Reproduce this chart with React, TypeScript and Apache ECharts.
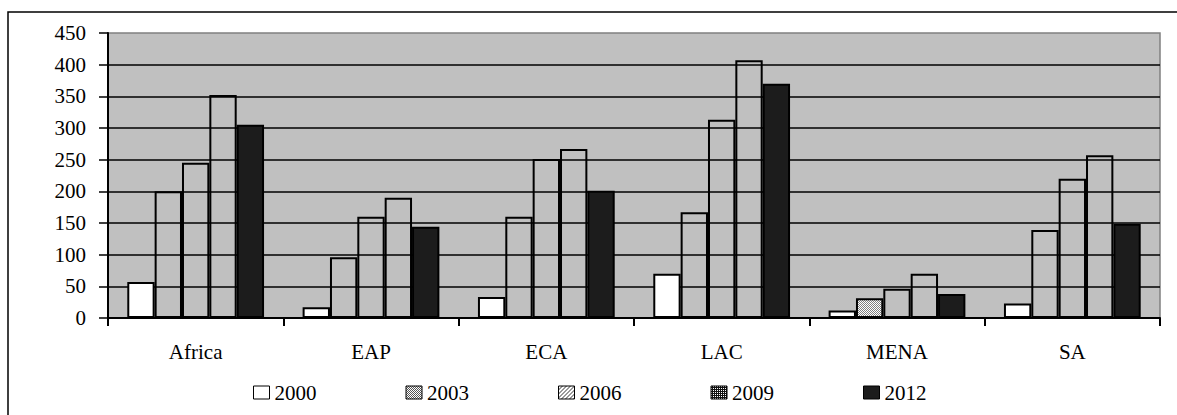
import React, { useEffect, useRef } from "react";
import * as echarts from "echarts";

const categories = ["Africa", "EAP", "ECA", "LAC", "MENA", "SA"];
const years = ["2000", "2003", "2006", "2009", "2012"];
const v2000 = [57, 17, 33, 70, 12, 23];
const v2003 = [200, 96, 160, 167, 31, 139];
const v2006 = [245, 160, 251, 313, 46, 220];
const v2009 = [352, 190, 267, 407, 70, 257];
const v2012 = [305, 144, 201, 370, 38, 149];
const yTicks = [0, 50, 100, 150, 200, 250, 300, 350, 400, 450];

const FONT = "'Liberation Serif', 'Times New Roman', serif";

function makePattern(kind: string) {
  const c = document.createElement("canvas");
  const size = 4;
  c.width = size;
  c.height = size;
  const ctx = c.getContext("2d")!;
  ctx.fillStyle = "#ffffff";
  ctx.fillRect(0, 0, size, size);
  if (kind === "dots") {
    ctx.fillStyle = "#808080";
    ctx.fillRect(0, 0, 1, 1);
    ctx.fillRect(2, 0, 1, 1);
    ctx.fillRect(1, 1, 1, 1);
    ctx.fillRect(3, 1, 1, 1);
    ctx.fillRect(0, 2, 1, 1);
    ctx.fillRect(2, 2, 1, 1);
    ctx.fillRect(1, 3, 1, 1);
    ctx.fillRect(3, 3, 1, 1);
  } else if (kind === "legdots") {
    ctx.fillStyle = "#555555";
    for (let i = 0; i < size; i++) {
      ctx.fillRect(i, i, 1, 1);
      ctx.fillRect((i + 2) % size, i, 1, 1);
    }
  } else if (kind === "hatch") {
    ctx.fillStyle = "#333333";
    for (let i = 0; i < size; i++) {
      ctx.fillRect(size - 1 - i, i, 1, 1);
    }
  } else {
    ctx.fillStyle = "#111111";
    ctx.fillRect(0, 0, size, size);
    ctx.fillStyle = "#ffffff";
    ctx.fillRect(0, 0, 1, 1);
    ctx.fillRect(2, 2, 1, 1);
    ctx.fillRect(2, 0, 1, 1);
    ctx.fillRect(0, 2, 1, 1);
  }
  return { image: c, repeat: "repeat", imageWidth: size, imageHeight: size } as any;
}

export default function App() {
  const ref = useRef<HTMLDivElement>(null);
  useEffect(() => {
    document.body.style.margin = "0";
    const chart = echarts.init(ref.current!, null, { renderer: "svg" });
    const dots = makePattern("dots");
    const legDots = makePattern("legdots");
    const hatch = makePattern("hatch");
    const check = makePattern("check");
    const clear = "rgba(0,0,0,0)";
    const baseBar = {
      type: "bar" as const,
      barGap: "0%",
      barCategoryGap: "22%",
      emphasis: { disabled: true },
    };
    const border = { borderColor: "#000", borderWidth: 2 };
    chart.setOption({
      animation: false,
      graphic: [
        {
          type: "rect",
          shape: { x: 8, y: 12, width: 1200, height: 430 },
          style: { fill: "none", stroke: "#000", lineWidth: 1.5 },
          silent: true,
        },
      ],
      grid: {
        left: 108,
        right: 17,
        top: 33,
        bottom: 97,
        show: true,
        backgroundColor: "#c0c0c0",
        borderColor: "#808080",
        borderWidth: 1.5,
      },
      legend: {
        left: 248,
        top: 377,
        itemGap: 89,
        itemWidth: 16,
        itemHeight: 13,
        textStyle: { fontFamily: FONT, fontSize: 21, color: "#000" },
        data: [
          { name: years[0], icon: "rect", itemStyle: { color: "#fff", borderColor: "#000", borderWidth: 1 } },
          { name: years[1], icon: "rect", itemStyle: { color: legDots, borderColor: "#000", borderWidth: 1 } },
          { name: years[2], icon: "rect", itemStyle: { color: hatch, borderColor: "#000", borderWidth: 1 } },
          { name: years[3], icon: "rect", itemStyle: { color: check, borderColor: "#000", borderWidth: 1 } },
          { name: years[4], icon: "rect", itemStyle: { color: "#1c1c1c", borderColor: "#000", borderWidth: 1 } },
        ],
      },
      xAxis: {
        type: "category",
        data: categories,
        axisLine: { lineStyle: { color: "#000", width: 2 } },
        axisTick: { show: true, length: 8, lineStyle: { color: "#000", width: 2 } },
        axisLabel: { fontFamily: FONT, fontSize: 21, color: "#000", margin: 23 },
      },
      yAxis: {
        type: "value",
        min: yTicks[0],
        max: yTicks[yTicks.length - 1],
        interval: 50,
        axisLine: { show: true, lineStyle: { color: "#000", width: 2 } },
        axisTick: { show: true, length: 9, lineStyle: { color: "#000", width: 1.5 } },
        axisLabel: { fontFamily: FONT, fontSize: 21, color: "#000", margin: 22 },
        splitLine: { show: true, showMaxLine: false, lineStyle: { color: "#000", width: 1.5 } },
      },
      series: [
        { ...baseBar, name: years[0], data: v2000, itemStyle: { color: "#fff", ...border } },
        {
          ...baseBar,
          name: years[1],
          data: v2003.map((v, i) =>
            categories[i] === "MENA" ? { value: v, itemStyle: { color: dots } } : v
          ),
          itemStyle: { color: clear, ...border },
        },
        { ...baseBar, name: years[2], data: v2006, itemStyle: { color: clear, ...border } },
        { ...baseBar, name: years[3], data: v2009, itemStyle: { color: clear, ...border } },
        { ...baseBar, name: years[4], data: v2012, itemStyle: { color: "#1c1c1c", ...border } },
      ],
    });
    return () => chart.dispose();
  }, []);
  return <div ref={ref} style={{ width: 1177, height: 415 }} />;
}
